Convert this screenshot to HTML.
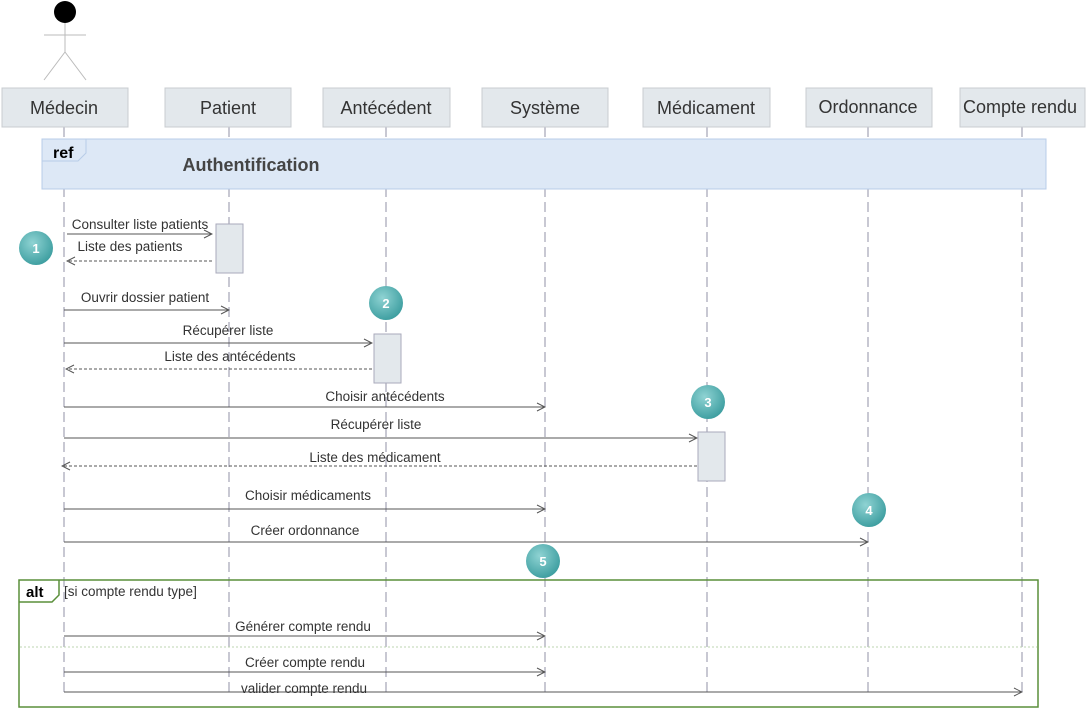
<!DOCTYPE html>
<html><head><meta charset="utf-8"><style>html,body{margin:0;padding:0;background:#fff}svg{display:block}text{font-family:"Liberation Sans",sans-serif}</style></head>
<body>
<svg width="1089" height="708" viewBox="0 0 1089 708" xmlns="http://www.w3.org/2000/svg">
<defs>
<marker id="a" markerWidth="10" markerHeight="10" refX="9" refY="5" orient="auto" markerUnits="userSpaceOnUse"><path d="M1,1 L9,5 L1,9" fill="none" stroke="#555" stroke-width="1"/></marker>
<radialGradient id="g" cx="40%" cy="35%" r="70%"><stop offset="0" stop-color="#8fd3d3"/><stop offset="1" stop-color="#3a9c9e"/></radialGradient>
</defs>
<circle cx="65" cy="12" r="11" fill="#000"/>
<g stroke="#bbb" stroke-width="1" fill="none"><line x1="65" y1="23" x2="65" y2="52"/><line x1="44" y1="35" x2="86" y2="35"/><line x1="65" y1="52" x2="44" y2="80"/><line x1="65" y1="52" x2="86" y2="80"/></g>
<g stroke="#aab" stroke-width="1.3" stroke-dasharray="10,5">
<line x1="64" y1="127" x2="64" y2="695"/><line x1="229" y1="127" x2="229" y2="695"/><line x1="386" y1="127" x2="386" y2="695"/><line x1="545" y1="127" x2="545" y2="695"/><line x1="707" y1="127" x2="707" y2="695"/><line x1="868" y1="127" x2="868" y2="695"/><line x1="1022" y1="127" x2="1022" y2="695"/>
</g>
<g fill="#e3e8ec" stroke="#c8ccd0">
<rect x="2" y="88" width="126" height="39"/><rect x="165" y="88" width="126" height="39"/><rect x="323" y="88" width="127" height="39"/><rect x="482" y="88" width="126" height="39"/><rect x="643" y="88" width="127" height="39"/><rect x="806" y="88" width="126" height="39"/><rect x="960" y="88" width="125" height="39"/>
</g>
<g font-size="18" fill="#333" text-anchor="middle">
<text x="64" y="114">Médecin</text><text x="228" y="114">Patient</text><text x="386" y="114">Antécédent</text><text x="545" y="114">Système</text><text x="706" y="114">Médicament</text><text x="868" y="113">Ordonnance</text><text x="1020" y="113">Compte rendu</text>
</g>
<rect x="42" y="139" width="1004" height="50" fill="#dde8f6" stroke="#b8cde8"/>
<path d="M42,161 L78,161 L86,153 L86,139" fill="none" stroke="#b8cde8"/>
<text x="53" y="158" font-size="16" font-weight="bold" fill="#000">ref</text>
<text x="251" y="171" font-size="18" font-weight="bold" fill="#444" text-anchor="middle">Authentification</text>
<g fill="#e3e8ec" stroke="#aab"><rect x="216" y="224" width="27" height="49"/><rect x="374" y="334" width="27" height="49"/><rect x="698" y="432" width="27" height="49"/></g>
<g stroke="#555" stroke-width="1" fill="none">
<line x1="67" y1="234" x2="212" y2="234" marker-end="url(#a)"/>
<line x1="212" y1="261" x2="67" y2="261" stroke-dasharray="3,2" marker-end="url(#a)"/>
<line x1="64" y1="310" x2="229" y2="310" marker-end="url(#a)"/>
<line x1="64" y1="343" x2="372" y2="343" marker-end="url(#a)"/>
<line x1="372" y1="369" x2="66" y2="369" stroke-dasharray="3,2" marker-end="url(#a)"/>
<line x1="64" y1="407" x2="545" y2="407" marker-end="url(#a)"/>
<line x1="64" y1="438" x2="697" y2="438" marker-end="url(#a)"/>
<line x1="697" y1="466" x2="62" y2="466" stroke-dasharray="3,2" marker-end="url(#a)"/>
<line x1="64" y1="509" x2="545" y2="509" marker-end="url(#a)"/>
<line x1="64" y1="542" x2="868" y2="542" marker-end="url(#a)"/>
<line x1="64" y1="636" x2="545" y2="636" marker-end="url(#a)"/>
<line x1="64" y1="672" x2="545" y2="672" marker-end="url(#a)"/>
<line x1="64" y1="692" x2="1022" y2="692" marker-end="url(#a)"/>
</g>
<g font-size="13.5" fill="#333" text-anchor="middle">
<text x="140" y="229">Consulter liste patients</text>
<text x="130" y="251">Liste des patients</text>
<text x="145" y="302">Ouvrir dossier patient</text>
<text x="228" y="335">Récupérer liste</text>
<text x="230" y="361">Liste des antécédents</text>
<text x="385" y="401">Choisir antécédents</text>
<text x="376" y="429">Récupérer liste</text>
<text x="375" y="462">Liste des médicament</text>
<text x="308" y="500">Choisir médicaments</text>
<text x="305" y="535">Créer ordonnance</text>
<text x="303" y="631">Générer compte rendu</text>
<text x="305" y="667">Créer compte rendu</text>
<text x="304" y="693">valider compte rendu</text>
</g>
<rect x="19" y="580" width="1019" height="127" fill="none" stroke="#5a8f3a" stroke-width="1.5"/>
<path d="M19,602 L52,602 L59,595 L59,580" fill="none" stroke="#5a8f3a" stroke-width="1.5"/>
<text x="26" y="597" font-size="15" font-weight="bold" fill="#000">alt</text>
<text x="64" y="596" font-size="13.5" fill="#333">[si compte rendu type]</text>
<line x1="20" y1="647" x2="1037" y2="647" stroke="#bcd4b0" stroke-dasharray="2,2"/>
<g font-size="13" font-weight="bold" fill="#fff" text-anchor="middle">
<circle cx="36" cy="248" r="17" fill="url(#g)"/><text x="36" y="253">1</text>
<circle cx="386" cy="303" r="17" fill="url(#g)"/><text x="386" y="308">2</text>
<circle cx="708" cy="402" r="17" fill="url(#g)"/><text x="708" y="407">3</text>
<circle cx="869" cy="510" r="17" fill="url(#g)"/><text x="869" y="515">4</text>
<circle cx="543" cy="561" r="17" fill="url(#g)"/><text x="543" y="566">5</text>
</g>
</svg>
</body></html>
